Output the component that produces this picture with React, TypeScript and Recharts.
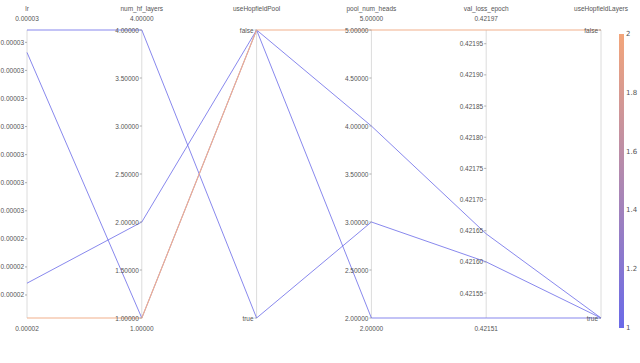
import React from "react";
import { LineChart, Line, XAxis, YAxis, ReferenceLine, ReferenceDot } from "recharts";

const dimensions = ["lr", "num_hf_layers", "useHopfieldPool", "pool_num_heads", "val_loss_epoch", "useHopfieldLayers"];

// one entry per run
const lr = [0.00003144, 0.00003064, 0.00002242, 0.00002118];
const numHfLayers = [4, 1, 2, 1];
const useHopfieldPool = [true, false, false, false];
const poolNumHeads = [3, 2, 4, 5];
const valLossEpoch = [0.4216, 0.42151, 0.421645, 0.421972];
const useHopfieldLayers = [true, true, true, false];
const colorValue = [1, 1, 1, 2];

const lrTicks = [0.000022, 0.000023, 0.000024, 0.000025, 0.000026, 0.000027, 0.000028, 0.000029, 0.00003, 0.000031];
const hfTicks = [1, 1.5, 2, 2.5, 3, 3.5, 4];
const headTicks = [2, 2.5, 3, 3.5, 4, 4.5, 5];
const lossTicks = [0.42155, 0.4216, 0.42165, 0.4217, 0.42175, 0.4218, 0.42185, 0.4219, 0.42195];
const colorbarTicks = [1, 1.2, 1.4, 1.6, 1.8, 2];

const BLUE = [106, 106, 232];
const ORANGE = [243, 165, 122];

const W = 640;
const H = 363;

const columns: Record<string, { values: (number | boolean)[]; ticks: number[] | null }> = {
  lr: { values: lr, ticks: lrTicks },
  num_hf_layers: { values: numHfLayers, ticks: hfTicks },
  useHopfieldPool: { values: useHopfieldPool, ticks: null },
  pool_num_heads: { values: poolNumHeads, ticks: headTicks },
  val_loss_epoch: { values: valLossEpoch, ticks: lossTicks },
  useHopfieldLayers: { values: useHopfieldLayers, ticks: null },
};

const domainOf = (d: string) => {
  const v = columns[d].values as number[];
  return [Math.min(...v), Math.max(...v)];
};

// false sits at the top of a boolean axis, true at the bottom
const norm = (d: string, v: number | boolean) => {
  if (typeof v === "boolean") return v ? 0 : 1;
  const [lo, hi] = domainOf(d);
  return (v - lo) / (hi - lo);
};

const data = dimensions.map((d) => {
  const row: Record<string, any> = { dim: d };
  columns[d].values.forEach((v, i) => (row["run" + i] = norm(d, v)));
  return row;
});

const colorFor = (v: number) => {
  const t = (v - 1) / (2 - 1);
  const c = BLUE.map((b, i) => Math.round(b + (ORANGE[i] - b) * t));
  return `rgb(${c[0]},${c[1]},${c[2]})`;
};

const font = {
  fontFamily: "'Liberation Sans', Arial, sans-serif",
  fontSize: 6.5,
  fill: "#555",
};

const tickShape = (label: string) => (p: any) => (
  <g>
    <line x1={p.cx - 2} x2={p.cx} y1={p.cy} y2={p.cy} stroke="#999" strokeWidth={0.8} />
    <text x={p.cx - 3} y={p.cy} textAnchor="end" dominantBaseline="central" {...font}>
      {label}
    </text>
  </g>
);

const headerShape = (name: string, value: string | null) => (p: any) => (
  <g>
    <text x={p.cx} y={p.cy - 22} textAnchor="middle" dominantBaseline="central" {...font}>
      {name}
    </text>
    {value && (
      <text x={p.cx} y={p.cy - 12} textAnchor="middle" dominantBaseline="central" {...font}>
        {value}
      </text>
    )}
  </g>
);

const footerShape = (value: string) => (p: any) => (
  <text x={p.cx} y={p.cy + 10} textAnchor="middle" dominantBaseline="central" {...font}>
    {value}
  </text>
);

function ColorBar() {
  const top = 34;
  const height = 294;
  return (
    <svg width={W} height={H} style={{ position: "absolute", left: 0, top: 0, pointerEvents: "none" }}>
      <defs>
        <linearGradient id="cbar" x1="0" y1="0" x2="0" y2="1">
          <stop offset="0%" stopColor={colorFor(2)} />
          <stop offset="100%" stopColor={colorFor(1)} />
        </linearGradient>
      </defs>
      <rect x={619} y={top} width={5} height={height} fill="url(#cbar)" />
      {colorbarTicks.map((t) => (
        <text
          key={t}
          x={626}
          y={top + height - (t - 1) * height}
          dominantBaseline="central"
          style={{ fontFamily: "'DejaVu Sans', sans-serif", fontSize: 7, fill: "#555" }}
        >
          {String(t)}
        </text>
      ))}
    </svg>
  );
}

export default function App() {
  return (
    <div style={{ position: "absolute", left: 0, top: 0, width: W, height: H, background: "#fff" }}>
      <LineChart width={W} height={H} data={data} margin={{ top: 30, right: 39, left: 27, bottom: 45 }}>
        <XAxis dataKey="dim" hide />
        <YAxis hide domain={[0, 1]} type="number" />
        {dimensions.map((d) => (
          <ReferenceLine key={"ax" + d} x={d} stroke="#dcdcdc" strokeWidth={1} />
        ))}
        {lr.map((_, i) => (
          <Line
            key={i}
            dataKey={"run" + i}
            type="linear"
            stroke={colorValue[i] === 2 ? "#f2b08c" : colorFor(colorValue[i])}
            strokeWidth={colorValue[i] === 2 ? 1.1 : 1}
            strokeOpacity={colorValue[i] === 2 ? 1 : 0.8}
            dot={false}
            isAnimationActive={false}
          />
        ))}
        {dimensions.map((d) => {
          const col = columns[d];
          const [lo, hi] = col.ticks ? domainOf(d) : [0, 0];
          return (
            <React.Fragment key={"lab" + d}>
              <ReferenceDot
                x={d}
                y={1}
                r={0}
                ifOverflow="visible"
                shape={headerShape(d, col.ticks ? hi.toFixed(5) : null)}
              />
              {col.ticks && (
                <ReferenceDot x={d} y={0} r={0} ifOverflow="visible" shape={footerShape(lo.toFixed(5))} />
              )}
              {col.ticks
                ? col.ticks.map((t) => (
                    <ReferenceDot
                      key={d + t}
                      x={d}
                      y={norm(d, t)}
                      r={0}
                      ifOverflow="visible"
                      shape={tickShape(t.toFixed(5))}
                    />
                  ))
                : [false, true].map((b) => (
                    <ReferenceDot
                      key={d + b}
                      x={d}
                      y={norm(d, b)}
                      r={0}
                      ifOverflow="visible"
                      shape={tickShape(String(b))}
                    />
                  ))}
            </React.Fragment>
          );
        })}
      </LineChart>
      <ColorBar />
    </div>
  );
}
